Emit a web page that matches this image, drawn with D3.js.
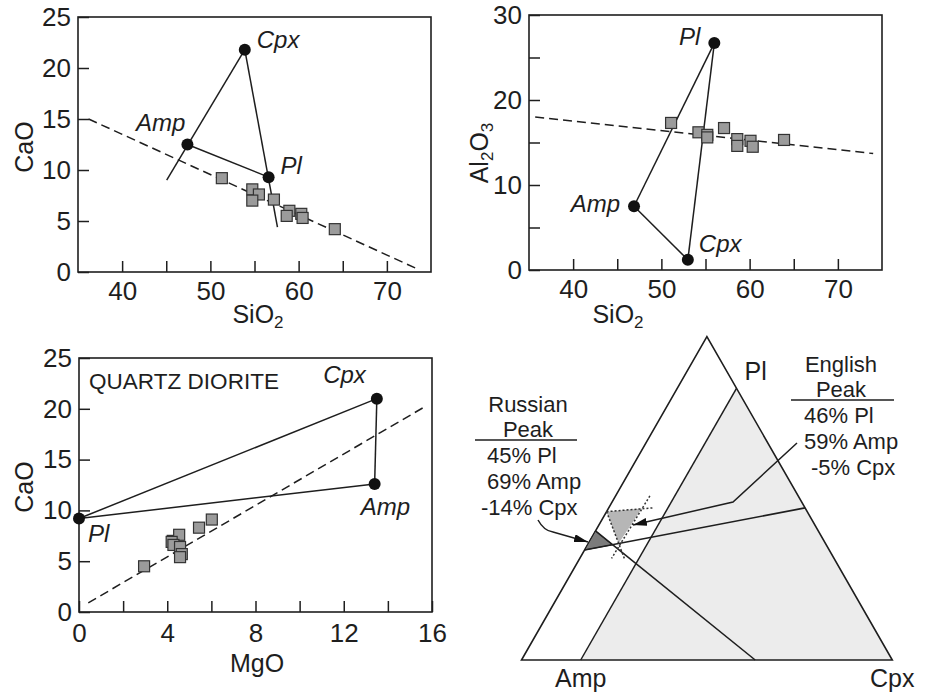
<!DOCTYPE html>
<html>
<head>
<meta charset="utf-8">
<script src="https://cdn.jsdelivr.net/npm/d3@7"></script>
<style>
  body { margin: 0; background: #fff; }
  svg text { font-family: "Liberation Sans", Arial, sans-serif; fill: #1e1e1e; }
</style>
</head>
<body>
<svg id="chart" width="930" height="695"></svg>
<script>
// --- CaO vs SiO2 (top left)
const minerals = ['Cpx', 'Amp', 'Pl']
const siCaMinSiO2 = [53.9, 47.4, 56.6]
const siCaMinCaO = [21.8, 12.5, 9.3]
const siCaSiO2 = [51.3, 54.75, 55.5, 54.75, 57.2, 58.95, 58.65, 60.3, 60.45, 64.1]
const siCaCaO = [9.2, 8.1, 7.6, 7.0, 7.1, 6.0, 5.5, 5.7, 5.3, 4.2]
const siCaTrend = [[36.2, 15.0], [73.2, 0.4]]
const siCaTies = [
  [[45.05, 9.0], [53.9, 21.8]],
  [[47.4, 12.5], [56.6, 9.3]],
  [[53.9, 21.8], [57.6, 4.4]]
]

// --- Al2O3 vs SiO2 (top right)
const siAlMinSiO2 = [53.0, 46.9, 56.0]
const siAlMinAl2O3 = [1.2, 7.5, 26.7]
const siAlSiO2 = [51.1, 54.2, 55.2, 55.2, 57.1, 58.6, 58.6, 60.1, 60.35, 63.9]
const siAlAl2O3 = [17.3, 16.2, 15.9, 15.6, 16.7, 15.4, 14.6, 15.2, 14.5, 15.3]
const siAlTrend = [[35.7, 18.0], [74.0, 13.7]]
const siAlTies = [
  [[56.0, 26.7], [46.9, 7.5]],
  [[46.9, 7.5], [53.0, 1.2]],
  [[53.0, 1.2], [56.0, 26.7]]
]

// --- CaO vs MgO (bottom left)
const mgCaMinMgO = [13.5, 13.4, 0]
const mgCaMinCaO = [21.0, 12.6, 9.2]
const mgCaMgO = [2.95, 4.25, 4.54, 4.2, 4.28, 4.58, 4.66, 4.58, 5.44, 6.02]
const mgCaCaO = [4.5, 7.0, 7.6, 6.9, 6.6, 6.4, 5.7, 5.4, 8.3, 9.1]
const mgCaTrend = [[0.42, 0.9], [15.67, 20.2]]
const mgCaTies = [
  [[0, 9.2], [13.5, 21.0]],
  [[0, 9.2], [13.4, 12.6]],
  [[13.5, 21.0], [13.4, 12.6]]
]

// --- ternary Pl-Amp-Cpx, points as [Pl, Amp, Cpx]
const ternOuter = [[1.19, 0, -0.19], [0, 1.19, -0.19], [0, 0, 1]]
const ternInner = [[1, 0, 0], [0, 1, 0], [0, 0, 1]]
const ternLines = [
  [[0.405, 0.785, -0.19], [0.56, 0, 0.44]],
  [[0.475, 0.715, -0.19], [0, 0.44, 0.56]]
]
const russianField = [[0.475, 0.715, -0.19], [0.405, 0.785, -0.19], [0.424, 0.686, -0.11]]
const englishField = [[0.546, 0.644, -0.19], [0.558, 0.525, -0.083], [0.43, 0.663, -0.093]]
const englishDotted = [
  [[0.546, 0.644, -0.19], [0.56, 0.487, -0.047]],
  [[0.604, 0.476, -0.08], [0.374, 0.714, -0.088]],
  [[0.546, 0.644, -0.19], [0.368, 0.674, -0.042]]
]
const russianPeak = ['45% Pl', '69% Amp', '-14% Cpx']
const englishPeak = ['46% Pl', '59% Amp', '-5% Cpx']

const svg = d3.select('#chart')
const ink = '#1e1e1e'

function drawPanel(cfg) {
  const x = d3.scaleLinear().domain(cfg.xDomain).range([cfg.left, cfg.right])
  const y = d3.scaleLinear().domain(cfg.yDomain).range([cfg.bottom, cfg.top])
  const g = svg.append('g')

  // 축 (눈금 안쪽)
  const xAxis = g.append('g')
    .attr('transform', `translate(0,${cfg.bottom})`)
    .call(d3.axisBottom(x).tickValues(cfg.xTicks).tickSize(-11).tickPadding(cfg.xPad)
      .tickFormat(d => cfg.xLabels.includes(d) ? d : ''))
  const yAxis = g.append('g')
    .attr('transform', `translate(${cfg.left},0)`)
    .call(d3.axisLeft(y).tickValues(cfg.yTicks).tickSize(-11).tickPadding(7)
      .tickFormat(d => cfg.yLabels.includes(d) ? d : ''))
  for (const ax of [xAxis, yAxis]) {
    ax.select('.domain').remove()
    ax.selectAll('line').attr('stroke', ink).attr('stroke-width', 1.5)
    ax.selectAll('text').attr('font-size', '26px').attr('fill', ink)
      .style('font-family', '"Liberation Sans", Arial, sans-serif')
  }

  g.append('rect')
    .attr('x', cfg.left).attr('y', cfg.top)
    .attr('width', cfg.right - cfg.left).attr('height', cfg.bottom - cfg.top)
    .attr('fill', 'none').attr('stroke', ink).attr('stroke-width', 1.6)

  const line = d3.line().x(d => x(d[0])).y(d => y(d[1]))

  // 추세선
  g.append('path')
    .attr('d', line(cfg.trend))
    .attr('fill', 'none').attr('stroke', ink).attr('stroke-width', 1.5)
    .attr('stroke-dasharray', '9,5')

  // 광물 연결선
  g.selectAll('.tie').data(cfg.ties).join('path')
    .attr('d', line)
    .attr('fill', 'none').attr('stroke', ink).attr('stroke-width', 1.5)

  // 시료
  g.selectAll('.sample').data(d3.range(cfg.sx.length)).join('rect')
    .attr('x', i => x(cfg.sx[i]) - 5.5).attr('y', i => y(cfg.sy[i]) - 5.5)
    .attr('width', 11).attr('height', 11)
    .attr('fill', '#9b9b9b').attr('stroke', '#333').attr('stroke-width', 1.2)

  // 광물
  g.selectAll('.mineral').data(minerals).join('circle')
    .attr('cx', (d, i) => x(cfg.mx[i])).attr('cy', (d, i) => y(cfg.my[i]))
    .attr('r', 6).attr('fill', '#111')

  g.selectAll('.mlabel').data(minerals).join('text')
    .attr('x', (d, i) => x(cfg.mx[i]) + cfg.labelPos[i][0])
    .attr('y', (d, i) => y(cfg.my[i]) + cfg.labelPos[i][1])
    .attr('text-anchor', (d, i) => cfg.labelPos[i][2])
    .attr('font-size', '24px').attr('font-style', 'italic')
    .text(d => d)

  return g
}

drawPanel({
  left: 78, right: 431, top: 17, bottom: 272,
  xDomain: [35, 75], yDomain: [0, 25],
  xTicks: d3.range(40, 71, 5), xLabels: [40, 50, 60, 70], xPad: 10,
  yTicks: d3.range(0, 26, 5), yLabels: [0, 5, 10, 15, 20, 25],
  trend: siCaTrend, ties: siCaTies,
  sx: siCaSiO2, sy: siCaCaO, mx: siCaMinSiO2, my: siCaMinCaO,
  labelPos: [[12, -2, 'start'], [-2, -14, 'end'], [12, -3, 'start']]
})
drawPanel({
  left: 529, right: 882, top: 15, bottom: 270,
  xDomain: [35, 75], yDomain: [0, 30],
  xTicks: d3.range(40, 71, 5), xLabels: [40, 50, 60, 70], xPad: 10,
  yTicks: d3.range(0, 31, 5), yLabels: [0, 10, 20, 30],
  trend: siAlTrend, ties: siAlTies,
  sx: siAlSiO2, sy: siAlAl2O3, mx: siAlMinSiO2, my: siAlMinAl2O3,
  labelPos: [[11, -8, 'start'], [-14, 6, 'end'], [-14, 2, 'end']]
})
drawPanel({
  left: 79, right: 432, top: 358, bottom: 612,
  xDomain: [0, 16], yDomain: [0, 25],
  xTicks: d3.range(0, 17, 2), xLabels: [0, 4, 8, 12, 16], xPad: 12,
  yTicks: d3.range(0, 26, 5), yLabels: [0, 5, 10, 15, 20, 25],
  trend: mgCaTrend, ties: mgCaTies,
  sx: mgCaMgO, sy: mgCaCaO, mx: mgCaMinMgO, my: mgCaMinCaO,
  labelPos: [[-11, -16, 'end'], [-14, 31, 'start'], [9, 23, 'start']]
})

// 축 제목
function axisTitle(x, y, parts, rotate) {
  const t = svg.append('text')
    .attr('transform', `translate(${x},${y})` + (rotate ? ' rotate(-90)' : ''))
    .attr('text-anchor', 'middle').attr('font-size', '25px')
  parts.forEach(p => {
    t.append('tspan')
      .attr('font-size', p.sub ? '17px' : '25px')
      .attr('dy', p.sub ? 5 : (p.after ? -5 : 0))
      .text(p.t)
  })
}
axisTitle(258, 323, [{ t: 'SiO' }, { t: '2', sub: true }])
axisTitle(618, 323, [{ t: 'SiO' }, { t: '2', sub: true }])
axisTitle(257, 672, [{ t: 'MgO' }])
axisTitle(33, 147, [{ t: 'CaO' }], true)
axisTitle(33, 487, [{ t: 'CaO' }], true)
axisTitle(488, 153, [{ t: 'Al' }, { t: '2', sub: true }, { t: 'O', after: true }, { t: '3', sub: true }], true)

svg.append('text').attr('x', 89).attr('y', 389).attr('font-size', '22.5px')
  .attr('textLength', 190).text('QUARTZ DIORITE')

// --- 삼각도
const tx = d3.scaleLinear().domain([0, 1]).range([580.7, 892.3])
const ty = d3.scaleLinear().domain([0, Math.sqrt(3) / 2]).range([660, 388.3])
const tern = d => [tx(d[2] + d[0] / 2), ty(d[0] * Math.sqrt(3) / 2)]
const tline = d3.line().x(d => tern(d)[0]).y(d => tern(d)[1])
const tg = svg.append('g')

tg.append('path').attr('d', tline(ternInner) + 'Z').attr('fill', '#ececec')
tg.append('path').attr('d', tline(ternOuter) + 'Z')
  .attr('fill', 'none').attr('stroke', ink).attr('stroke-width', 1.6).attr('stroke-linejoin', 'miter')
tg.append('path').attr('d', tline([ternInner[0], ternInner[1]]))
  .attr('fill', 'none').attr('stroke', ink).attr('stroke-width', 1.5)

tg.append('path').attr('d', tline(russianField) + 'Z')
  .attr('fill', '#7b7b7b').attr('stroke', ink).attr('stroke-width', 1)
tg.append('path').attr('d', tline(englishField) + 'Z').attr('fill', '#b6b6b6')

tg.selectAll('.tl').data(ternLines).join('path')
  .attr('d', tline).attr('fill', 'none').attr('stroke', ink).attr('stroke-width', 1.6)
tg.selectAll('.td').data(englishDotted).join('path')
  .attr('d', tline).attr('fill', 'none').attr('stroke', '#333')
  .attr('stroke-width', 1.5).attr('stroke-dasharray', '2,2')

// 꼭짓점 이름
const vLabels = [
  { t: 'Pl', p: ternInner[0], dx: 8, dy: -8, a: 'start' },
  { t: 'Amp', p: ternInner[1], dx: 0, dy: 27, a: 'middle' },
  { t: 'Cpx', p: ternInner[2], dx: 0, dy: 27, a: 'middle' }
]
tg.selectAll('.vl').data(vLabels).join('text')
  .attr('x', d => tern(d.p)[0] + d.dx).attr('y', d => tern(d.p)[1] + d.dy)
  .attr('text-anchor', d => d.a).attr('font-size', '25px').text(d => d.t)

// 화살표
const defs = svg.append('defs')
defs.append('marker').attr('id', 'head')
  .attr('viewBox', '0 0 14 8').attr('refX', 14).attr('refY', 4)
  .attr('markerWidth', 14).attr('markerHeight', 8)
  .attr('markerUnits', 'userSpaceOnUse').attr('orient', 'auto')
  .append('path').attr('d', 'M0,0 L14,4 L0,8 Z').attr('fill', '#111')

const rp = d3.path()
rp.moveTo(538, 520)
rp.quadraticCurveTo(544, 531, 553, 532)
rp.lineTo(588, 542)
svg.append('path').attr('d', rp.toString())
  .attr('fill', 'none').attr('stroke', ink).attr('stroke-width', 1.5).attr('marker-end', 'url(#head)')

svg.append('path').attr('d', d3.line()([[797, 443], [733, 502], [633, 525]]))
  .attr('fill', 'none').attr('stroke', ink).attr('stroke-width', 1.5).attr('marker-end', 'url(#head)')

// 주석 글
function note(cx, y0, title, lines, starts, ruleX) {
  const g = svg.append('g').attr('font-size', '22px')
  g.append('text').attr('x', cx).attr('y', y0).attr('text-anchor', 'middle').attr('font-size', '22px').text(title[0])
  g.append('text').attr('x', cx).attr('y', y0 + 25).attr('text-anchor', 'middle').attr('font-size', '22px').text(title[1])
  g.append('line').attr('x1', ruleX[0]).attr('x2', ruleX[1])
    .attr('y1', y0 + 28).attr('y2', y0 + 28).attr('stroke', ink).attr('stroke-width', 1.5)
  lines.forEach((t, i) => {
    g.append('text').attr('x', starts[i]).attr('y', y0 + 51 + i * 26)
      .attr('font-size', '22px').text(t)
  })
}
note(528, 412, ['Russian', 'Peak'], russianPeak, [487, 487, 481], [475, 577])
note(841, 372, ['English', 'Peak'], englishPeak, [804, 804, 811], [791, 894])
</script>
</body>
</html>
